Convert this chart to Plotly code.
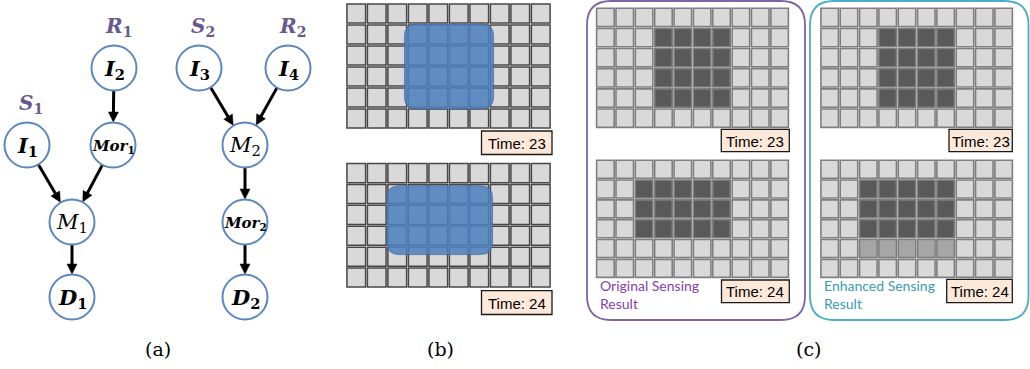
import plotly.graph_objects as go

# ---------------- data ----------------
# (a) dependency graph
node_ids = ["I1", "I2", "Mor1", "M1", "D1", "I3", "I4", "M2", "Mor2", "D2"]
node_text = ["<i>I</i><sub>1</sub>", "<i>I</i><sub>2</sub>", "<i>Mor</i><sub>1</sub>",
             "<i>M</i><sub>1</sub>", "<i>D</i><sub>1</sub>", "<i>I</i><sub>3</sub>",
             "<i>I</i><sub>4</sub>", "<i>M</i><sub>2</sub>", "<i>Mor</i><sub>2</sub>",
             "<i>D</i><sub>2</sub>"]
node_bold = [True, True, True, False, True, True, True, False, True, True]
edges = [("I2", "Mor1"), ("I1", "M1"), ("Mor1", "M1"), ("M1", "D1"),
         ("I3", "M2"), ("I4", "M2"), ("M2", "Mor2"), ("Mor2", "D2")]
group_text = ["<i>S</i><sub>1</sub>", "<i>R</i><sub>1</sub>",
              "<i>S</i><sub>2</sub>", "<i>R</i><sub>2</sub>"]
group_node = ["I1", "I2", "I3", "I4"]

# (b) ground-truth blob extents per time step, in grid-cell units [c0, c1, r0, r1]
times = ["Time: 23", "Time: 24"]
blob_23 = [2.85, 7.2, 1.0, 5.05]
blob_24 = [2.0, 7.15, 1.1, 4.4]

# (c) sensing grids: 0 = empty, 1 = sensed, 0.5 = inferred (enhanced)
orig_23 = [[0, 0, 0, 0, 0, 0, 0, 0, 0, 0],
           [0, 0, 0, 1, 1, 1, 1, 0, 0, 0],
           [0, 0, 0, 1, 1, 1, 1, 0, 0, 0],
           [0, 0, 0, 1, 1, 1, 1, 0, 0, 0],
           [0, 0, 0, 1, 1, 1, 1, 0, 0, 0],
           [0, 0, 0, 0, 0, 0, 0, 0, 0, 0]]
orig_24 = [[0, 0, 0, 0, 0, 0, 0, 0, 0, 0],
           [0, 0, 1, 1, 1, 1, 1, 0, 0, 0],
           [0, 0, 1, 1, 1, 1, 1, 0, 0, 0],
           [0, 0, 1, 1, 1, 1, 1, 0, 0, 0],
           [0, 0, 0, 0, 0, 0, 0, 0, 0, 0],
           [0, 0, 0, 0, 0, 0, 0, 0, 0, 0]]
enh_23 = [row[:] for row in orig_23]
enh_24 = [[0, 0, 0, 0, 0, 0, 0, 0, 0, 0],
          [0, 0, 1, 1, 1, 1, 1, 0, 0, 0],
          [0, 0, 1, 1, 1, 1, 1, 0, 0, 0],
          [0, 0, 1, 1, 1, 1, 1, 0, 0, 0],
          [0, 0, 0.5, 0.5, 0.5, 0.5, 0.5, 0, 0, 0],
          [0, 0, 0, 0, 0, 0, 0, 0, 0, 0]]
empty_grid = [[0] * 10 for _ in range(6)]
captions = ["(a)", "(b)", "(c)"]
box_labels = ["Original Sensing<br>Result", "Enhanced Sensing<br>Result"]

# ---------------- layout (pixel coordinates) ----------------
node_pos = {"I1": (27, 145), "I2": (114, 68), "Mor1": (113, 145), "M1": (72, 222),
            "D1": (72, 297), "I3": (199, 68), "I4": (288, 68), "M2": (245, 145),
            "Mor2": (245, 222), "D2": (245, 297)}
R = 22.5
NODE_BLUE = "#5b87c0"
GROUP_COL = "#67598f"

shapes = []
annotations = []


def rrect(x0, y0, x1, y1, r):
    return (f"M{x0+r},{y0} L{x1-r},{y0} Q{x1},{y0} {x1},{y0+r} "
            f"L{x1},{y1-r} Q{x1},{y1} {x1-r},{y1} L{x0+r},{y1} "
            f"Q{x0},{y1} {x0},{y1-r} L{x0},{y0+r} Q{x0},{y0} {x0+r},{y0} Z")


# --- (a) ---
HEAD_L, HEAD_W = 10, 5
for a, b in edges:
    xa, ya = node_pos[a]
    xb, yb = node_pos[b]
    dx, dy = xb - xa, yb - ya
    d = (dx * dx + dy * dy) ** 0.5
    ux, uy = dx / d, dy / d
    sx, sy = xa + ux * R, ya + uy * R
    tx, ty = xb - ux * (R + 0.5), yb - uy * (R + 0.5)
    bx, by = tx - ux * HEAD_L, ty - uy * HEAD_L
    shapes.append(dict(type="line", xref="x", yref="y", x0=sx, y0=sy,
                       x1=bx + ux * 1.5, y1=by + uy * 1.5,
                       line=dict(color="black", width=3)))
    px, py = -uy, ux
    shapes.append(dict(type="path", xref="x", yref="y",
                       path=(f"M{tx},{ty} L{bx + px * HEAD_W},{by + py * HEAD_W} "
                             f"L{bx - px * HEAD_W},{by - py * HEAD_W} Z"),
                       fillcolor="black", line=dict(color="black", width=0.5)))
for nid, txt, bold in zip(node_ids, node_text, node_bold):
    x, y = node_pos[nid]
    shapes.append(dict(type="circle", xref="x", yref="y", x0=x - R, x1=x + R,
                       y0=y - R, y1=y + R, line=dict(color=NODE_BLUE, width=2),
                       fillcolor="white", layer="above"))
    size = 15 if nid.startswith("Mor") else 21
    annotations.append(dict(x=x, y=y + 1, xref="x", yref="y", text=txt, showarrow=False,
                            font=dict(family="DejaVu Serif", size=size, color="black",
                                      weight="bold" if bold else "normal")))
for txt, nid in zip(group_text, group_node):
    x, y = node_pos[nid]
    annotations.append(dict(x=x + 4, y=y - 41, xref="x", yref="y", text=txt,
                            showarrow=False,
                            font=dict(family="DejaVu Serif", size=20, color=GROUP_COL,
                                      weight="bold")))


# --- grids ---
def draw_grid(grid, gx0, gx1, gy0, gy1, fills, line_col, line_w, inset):
    nr, nc = len(grid), len(grid[0])
    cw, ch = (gx1 - gx0) / nc, (gy1 - gy0) / nr
    for r in range(nr):
        for c in range(nc):
            v = grid[r][c]
            shapes.append(dict(type="rect", xref="x", yref="y",
                               x0=gx0 + c * cw + inset, x1=gx0 + (c + 1) * cw - inset,
                               y0=gy0 + r * ch + inset, y1=gy0 + (r + 1) * ch - inset,
                               fillcolor=fills[v], line=dict(color=line_col, width=line_w)))
    return cw, ch


def time_box(x0, x1, y0, y1, label):
    shapes.append(dict(type="rect", xref="x", yref="y", x0=x0, x1=x1, y0=y0, y1=y1,
                       fillcolor="#fde9d9", line=dict(color="#1a1a1a", width=1.3)))
    annotations.append(dict(x=(x0 + x1) / 2, y=(y0 + y1) / 2 + 0.5, xref="x", yref="y",
                            text=label, showarrow=False,
                            font=dict(family="Liberation Sans", size=15, color="black")))


b_fills = {0: "#d9d9d9", 1: "#595959", 0.5: "#a6a6a6"}
c_fills = {0: "#d9d9d9", 1: "#595959", 0.5: "#a6a6a6"}

# (b)
b_frames = [(346, 551, 3, 129, 481.5, 552, 131, 154.5, blob_23),
            (346, 551, 162.7, 288, 481.5, 552, 290.7, 314.5, blob_24)]
for (gx0, gx1, gy0, gy1, tx0, tx1, ty0, ty1, blob), t in zip(b_frames, times):
    cw, ch = draw_grid(empty_grid, gx0, gx1, gy0, gy1, b_fills, "#474747", 1.5, 0.9)
    bx0, bx1 = gx0 + blob[0] * cw, gx0 + blob[1] * cw
    by0, by1 = gy0 + blob[2] * ch, gy0 + blob[3] * ch
    shapes.append(dict(type="path", xref="x", yref="y",
                       path=rrect(bx0, by0, bx1, by1, 12),
                       fillcolor="rgba(79,129,189,0.88)",
                       line=dict(color="rgba(60,100,150,0.6)", width=1)))
    time_box(tx0, tx1, ty0, ty1, t)

# (c) outer boxes
shapes.append(dict(type="path", xref="x", yref="y", path=rrect(587, 1, 805, 320, 24),
                   line=dict(color="#8064a2", width=1.8), fillcolor="rgba(0,0,0,0)"))
shapes.append(dict(type="path", xref="x", yref="y", path=rrect(810, 1, 1028.5, 320, 24),
                   line=dict(color="#4bacc6", width=1.8), fillcolor="rgba(0,0,0,0)"))

c_frames = [
    (orig_23, 595.7, 789.3, 7.3, 128.3, 721.3, 789.3, 129.3, 151.7, times[0]),
    (orig_24, 595.7, 789.3, 159.3, 278.3, 721.5, 789.3, 280, 302.7, times[1]),
    (enh_23, 820, 1013.3, 7.3, 128.3, 949, 1012.3, 129.3, 151.7, times[0]),
    (enh_24, 820, 1013.3, 159.3, 278.3, 946.7, 1012.3, 279.3, 302.7, times[1]),
]
for grid, gx0, gx1, gy0, gy1, tx0, tx1, ty0, ty1, t in c_frames:
    draw_grid(grid, gx0, gx1, gy0, gy1, c_fills, "#7f7f7f", 1.6, 0.9)
    time_box(tx0, tx1, ty0, ty1, t)

annotations.append(dict(x=598, y=294, xref="x", yref="y", text=box_labels[0],
                        showarrow=False, xanchor="left", yanchor="middle", align="left",
                        font=dict(family="Lato", size=14, color="#7f3fb0")))
annotations.append(dict(x=822, y=294, xref="x", yref="y", text=box_labels[1],
                        showarrow=False, xanchor="left", yanchor="middle", align="left",
                        font=dict(family="Lato", size=14, color="#3a9ab8")))

# captions
for cap, cx in zip(captions, [158, 440, 808]):
    annotations.append(dict(x=cx, y=349, xref="x", yref="y", text=cap, showarrow=False,
                            font=dict(family="DejaVu Serif", size=19, color="black")))

fig = go.Figure()
fig.add_trace(go.Scatter(x=[0, 1030], y=[0, 369], mode="markers",
                         marker=dict(opacity=0), hoverinfo="skip", showlegend=False))
fig.update_layout(width=1030, height=369, margin=dict(l=0, r=0, t=0, b=0),
                  plot_bgcolor="white", paper_bgcolor="white",
                  xaxis=dict(range=[0, 1030], visible=False, fixedrange=True),
                  yaxis=dict(range=[369, 0], visible=False, fixedrange=True),
                  shapes=shapes, annotations=annotations, showlegend=False)
fig.write_html("out.html", config={"displayModeBar": False},
               post_script="document.body.style.margin='0';document.body.style.overflow='hidden';")
